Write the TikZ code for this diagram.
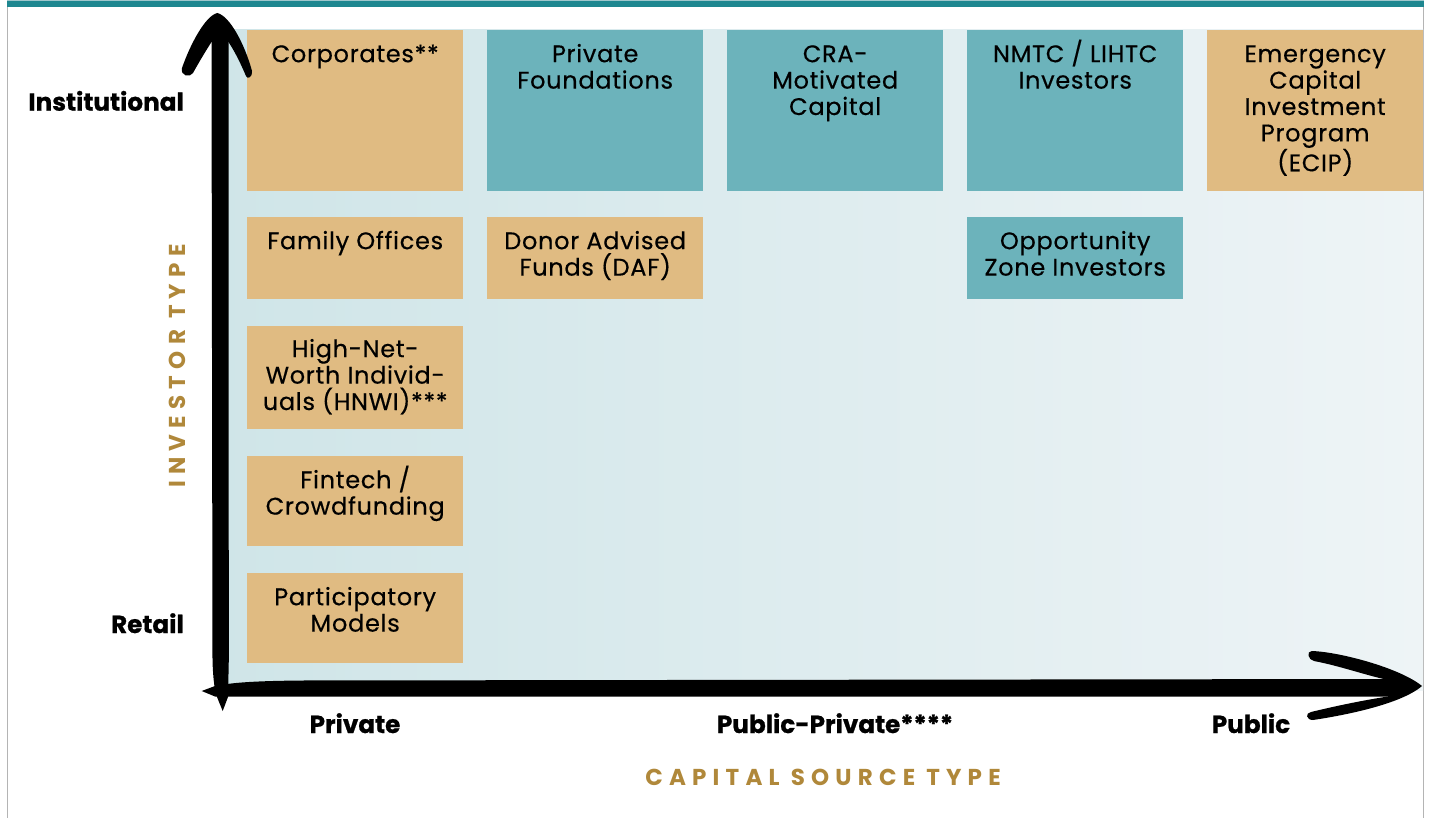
\documentclass[tikz,border=0pt]{standalone}
\usepackage{fontspec}
\setmainfont{Poppins}
\newfontfamily\cellfont[FakeBold=0.4, LetterSpace=3]{Poppins}
\newfontfamily\labelfont[BoldFeatures={FakeBold=0.8}]{Poppins}
\newfontfamily\goldfont[LetterSpace=27]{Poppins}
\definecolor{tanc}{HTML}{E0BB82}
\definecolor{tealc}{HTML}{6CB3BB}
\definecolor{bgl}{HTML}{CFE5E8}
\definecolor{bgr}{HTML}{EEF4F6}
\definecolor{topbar}{HTML}{1E8790}
\definecolor{topline}{HTML}{9FC7CC}
\definecolor{goldc}{HTML}{B0883A}
\definecolor{framec}{HTML}{B4B4B4}
\newcommand\fls{\rule{0pt}{27pt}}
\tikzset{
  cell/.style={anchor=north west, inner sep=0pt, draw=none, minimum width=216pt, minimum height=#1},
  tancell/.style={cell=#1, fill=tanc},
  tealcell/.style={cell=#1, fill=tealc},
  celltext/.style={anchor=north, align=center, inner sep=0pt, font=\cellfont\fontsize{24}{26.4}\selectfont},
  axislabel/.style={inner sep=0pt, font=\labelfont\fontsize{24.7}{28}\selectfont\bfseries},
  goldlabel/.style={inner sep=0pt, text=goldc, font=\goldfont\fontsize{23}{26}\selectfont\bfseries},
}
\begin{document}
\begin{tikzpicture}[x=1pt,y=-1pt]
\useasboundingbox (0,0) rectangle (1429,818);
\fill[white] (0,0) rectangle (1429,818);
% frame and top bar
\draw[framec, line width=1pt] (7.5,0) -- (7.5,818);
\draw[framec, line width=1pt] (1423,0) -- (1423,818);
\fill[topbar] (7,0) rectangle (1423.5,7);
\fill[topline] (7,0) rectangle (1423.5,1.2);
% background gradient
\shade[left color=bgl, right color=bgr] (215,30) rectangle (1423,690);
% cells
\node[tancell=160.7pt] (corp) at (247,30) {};
\node[tealcell=160.7pt] (pf) at (487,30) {};
\node[tealcell=160.7pt] (cra) at (727,30) {};
\node[tealcell=160.7pt] (nmtc) at (967,30) {};
\node[tancell=160.7pt] (ecip) at (1207,30) {};
\node[tancell=81.7pt] (fo) at (247,217) {};
\node[tancell=81.7pt] (daf) at (487,217) {};
\node[tealcell=81.7pt] (oz) at (967,217) {};
\node[tancell=103pt] (hnwi) at (247,326) {};
\node[tancell=90pt] (fin) at (247,456) {};
\node[tancell=89.7pt] (part) at (247,573) {};
% cell texts (first baseline 32pt below the cell top; strut is 27pt high)
\node[celltext] (corp-t) at ([yshift=-5pt]corp.north) {\fls Corporates**};
\node[celltext] (pf-t) at ([yshift=-5pt]pf.north) {\fls Private\\Foundations};
\node[celltext] (cra-t) at ([yshift=-5pt]cra.north) {\fls CRA-\\Motivated\\Capital};
\node[celltext] (nmtc-t) at ([yshift=-5pt]nmtc.north) {\fls NMTC / LIHTC\\Investors};
\node[celltext] (ecip-t) at ([yshift=-5pt]ecip.north) {\fls Emergency\\Capital\\Investment\\Program\\(ECIP)};
\node[celltext] (fo-t) at ([yshift=-5pt]fo.north) {\fls Family Offices};
\node[celltext] (daf-t) at ([yshift=-5pt]daf.north) {\fls Donor Advised\\Funds (DAF)};
\node[celltext] (oz-t) at ([yshift=-5pt]oz.north) {\fls Opportunity\\Zone Investors};
\node[celltext] (hnwi-t) at ([yshift=-4pt]hnwi.north) {\fls High-Net-\\Worth Individ-\\uals (HNWI)***};
\node[celltext] (fin-t) at ([yshift=-5pt]fin.north) {\fls Fintech /\\Crowdfunding};
\node[celltext] (part-t) at ([yshift=-5pt]part.north) {\fls Participatory\\Models};
% vertical axis arrow
\fill[black] (211.5,40) -- (212.5,660) .. controls (213,680) and (215,692) .. (217,697)
  -- (222.7,711) -- (228,697) -- (228.8,660) -- (228.5,40) -- cycle;
\fill[black] (182,68) .. controls (190,45) and (205,16) .. (217.3,13)
  .. controls (230,16) and (245,45) .. (252,71)
  .. controls (253,77) and (247,80) .. (246,76)
  .. controls (240,62) and (235,52) .. (228.5,42) -- (211.5,42)
  .. controls (205,52) and (198,64) .. (193,73)
  .. controls (190,78) and (180,76) .. (182,68) -- cycle;
% horizontal axis arrow
\fill[black] (201.7,691) -- (215,686) .. controls (235,682) and (260,681) .. (300,680.5)
  -- (1390,679) -- (1390,696.5) -- (215,696.5) -- cycle;
\fill[black] (1312,651) .. controls (1340,652) and (1400,668) .. (1422,686)
  .. controls (1400,705) and (1340,716) .. (1313,720)
  .. controls (1306,720) and (1305,713) .. (1311,712)
  .. controls (1340,705) and (1365,700) .. (1388,696.5) -- (1388,680)
  .. controls (1365,675) and (1340,666) .. (1314,661)
  .. controls (1308,660) and (1306,651) .. (1312,651) -- cycle;
% axis labels
\node[axislabel, anchor=base east] (inst) at (184,110.7) {Institutional};
\node[axislabel, anchor=base east] (retail) at (184,633) {Retail};
\node[axislabel, anchor=base] (priv) at (355,733) {Private};
\node[axislabel, anchor=base] (pubpriv) at (835,733) {Public-Private****};
\node[axislabel, anchor=base] (pub) at (1251,733) {Public};
\node[goldlabel, anchor=base] (cst) at (823,785) {CAPITAL SOURCE TYPE};
\node[goldlabel, anchor=base, rotate=90] (ivt) at (185,366) {INVESTOR TYPE};
\end{tikzpicture}
\end{document}
